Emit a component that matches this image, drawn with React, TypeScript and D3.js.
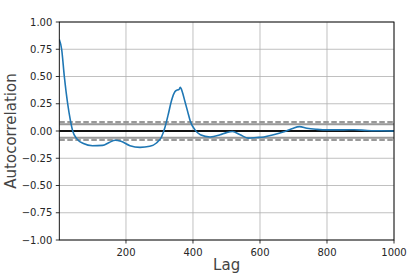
import * as d3 from "d3";
import * as React from "react";

// lags and autocorrelation values
const lags = [
  1, 8, 16, 26, 34, 41, 53, 73, 100, 130, 150, 168, 185, 212, 242, 271, 291,
  306, 316, 326, 336, 346, 352, 358, 362, 368, 376, 384, 392, 406, 422, 451,
  481, 500, 518, 541, 565, 590, 612, 640, 669, 695, 718, 740, 770, 800, 850,
  880, 920, 960, 1000,
];
const acf = [
  0.84, 0.75, 0.5, 0.25, 0.1, 0.0, -0.07, -0.115, -0.135, -0.132, -0.105,
  -0.085, -0.095, -0.135, -0.15, -0.14, -0.11, -0.055, 0.03, 0.15, 0.28, 0.36,
  0.375, 0.38, 0.4, 0.36, 0.27, 0.18, 0.09, 0.01, -0.035, -0.055, -0.035,
  -0.015, -0.005, -0.035, -0.065, -0.06, -0.055, -0.035, -0.01, 0.02, 0.04,
  0.025, 0.015, 0.01, 0.01, 0.012, 0.005, 0.002, 0.0,
];
const nObs = 1000;
const xTicks = [200, 400, 600, 800, 1000];
const yTicks = [-1, -0.75, -0.5, -0.25, 0, 0.25, 0.5, 0.75, 1];

const W = 413;
const H = 278;
const margin = { left: 59.3, right: 19, top: 22, bottom: 38 };
const font = "DejaVu Sans, sans-serif";

const fmt = (v: number) => {
  const s = v.toFixed(2);
  return v < 0 ? "\u2212" + s.slice(1) : s;
};

export default function App() {
  const x = d3
    .scaleLinear()
    .domain([1, 1000])
    .range([margin.left, W - margin.right]);
  const y = d3
    .scaleLinear()
    .domain([-1, 1])
    .range([H - margin.bottom, margin.top]);

  const [x0, x1] = x.range();
  const [y0, y1] = y.range();

  const z95 = 1.959963984540054 / Math.sqrt(nObs);
  const z99 = 2.5758293035489 / Math.sqrt(nObs);

  const line = d3
    .line<number>()
    .x((d, i) => x(lags[i]))
    .y((d) => y(d))
    .curve(d3.curveMonotoneX);

  return (
    <svg
      width={W}
      height={H}
      style={{ position: "absolute", left: 0, top: 0, background: "#fff" }}
    >
      <defs>
        <clipPath id="plot">
          <rect x={x0} y={y1} width={x1 - x0} height={y0 - y1} />
        </clipPath>
      </defs>
      {/* grid */}
      {xTicks.map((t) => (
        <line
          key={"gx" + t}
          x1={x(t)}
          x2={x(t)}
          y1={y1}
          y2={y0}
          stroke="#b0b0b0"
          strokeWidth={0.8}
        />
      ))}
      {yTicks.map((t) => (
        <line
          key={"gy" + t}
          x1={x0}
          x2={x1}
          y1={y(t)}
          y2={y(t)}
          stroke="#b0b0b0"
          strokeWidth={0.8}
        />
      ))}
      {/* confidence bands */}
      <g clipPath="url(#plot)">
        {[z95, -z95].map((z, i) => (
          <line
            key={"s" + i}
            x1={x0}
            x2={x1}
            y1={y(z)}
            y2={y(z)}
            stroke="#999"
            strokeWidth={2.2}
          />
        ))}
        {[z99, -z99].map((z, i) => (
          <line
            key={"d" + i}
            x1={x0}
            x2={x1}
            y1={y(z)}
            y2={y(z)}
            stroke="#999"
            strokeWidth={2.2}
            strokeDasharray="5.5 2.5"
          />
        ))}
        <line x1={x0} x2={x1} y1={y(0)} y2={y(0)} stroke="#111" strokeWidth={1.9} />
        <path
          d={line(acf) || ""}
          fill="none"
          stroke="#1f77b4"
          strokeWidth={1.6}
          strokeLinejoin="round"
        />
      </g>
      {/* spines */}
      <rect
        x={x0}
        y={y1}
        width={x1 - x0}
        height={y0 - y1}
        fill="none"
        stroke="#000"
        strokeWidth={0.9}
      />
      {/* x ticks */}
      {xTicks.map((t) => (
        <g key={"xt" + t}>
          <line x1={x(t)} x2={x(t)} y1={y0} y2={y0 + 3.5} stroke="#000" strokeWidth={0.8} />
          <text
            x={x(t)}
            y={y0 + 15.5}
            textAnchor="middle"
            fontFamily={font}
            fontSize={10}
            fill="#262626"
          >
            {t}
          </text>
        </g>
      ))}
      {/* y ticks */}
      {yTicks.map((t) => (
        <g key={"yt" + t}>
          <line x1={x0 - 3.5} x2={x0} y1={y(t)} y2={y(t)} stroke="#000" strokeWidth={0.8} />
          <text
            x={x0 - 7}
            y={y(t)}
            dy="0.35em"
            textAnchor="end"
            fontFamily={font}
            fontSize={10}
            fill="#262626"
          >
            {fmt(t)}
          </text>
        </g>
      ))}
      <text
        x={(x0 + x1) / 2}
        y={269.5}
        textAnchor="middle"
        fontFamily={font}
        fontSize={15}
        fill="#444"
      >
        Lag
      </text>
      <text
        transform={`translate(16,${(y0 + y1) / 2}) rotate(-90)`}
        textAnchor="middle"
        fontFamily={font}
        fontSize={15}
        fill="#444"
      >
        Autocorrelation
      </text>
    </svg>
  );
}
